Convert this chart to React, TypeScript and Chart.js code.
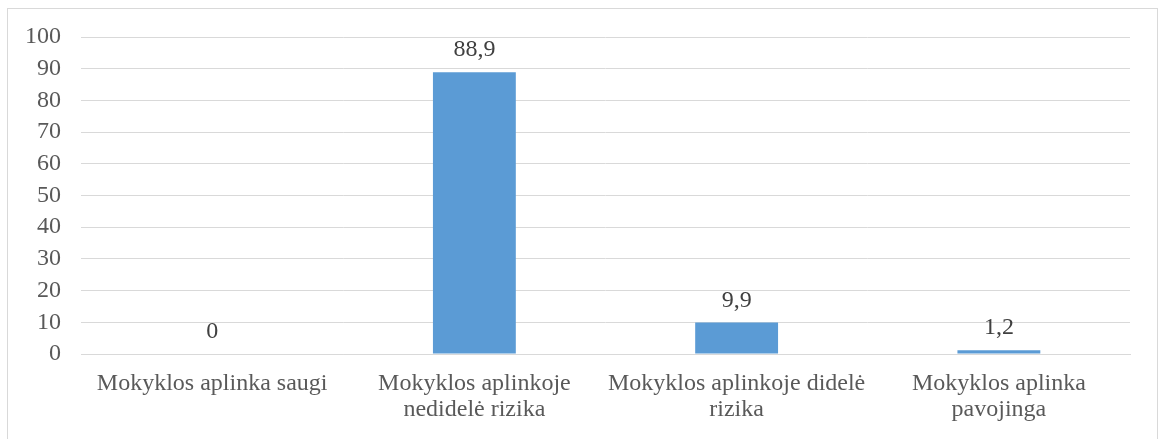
import React, { useEffect, useRef } from "react";
import { Chart, registerables } from "chart.js";

Chart.register(...registerables);

const categories: string[][] = [
  ["Mokyklos aplinka saugi"],
  ["Mokyklos aplinkoje", "nedidelė rizika"],
  ["Mokyklos aplinkoje didelė", "rizika"],
  ["Mokyklos aplinka", "pavojinga"],
];
const values: number[] = [0, 88.9, 9.9, 1.2];
const valueLabels: string[] = ["0", "88,9", "9,9", "1,2"];
const yMin = 0;
const yMax = 100;
const yStep = 10;

const FONT = "'Liberation Serif', 'Times New Roman', serif";
const FONT_SIZE = 24;

const dataLabelPlugin = {
  id: "dataLabels",
  afterDatasetsDraw(chart: any) {
    const ctx = chart.ctx;
    const meta = chart.getDatasetMeta(0);
    ctx.save();
    ctx.font = `${FONT_SIZE}px ${FONT}`;
    ctx.fillStyle = "#404040";
    ctx.textAlign = "center";
    ctx.textBaseline = "alphabetic";
    meta.data.forEach((el: any, i: number) => {
      ctx.fillText(valueLabels[i], el.x, el.y - 16);
    });
    ctx.restore();
  },
};

export default function App() {
  const ref = useRef<HTMLCanvasElement | null>(null);

  useEffect(() => {
    document.body.style.margin = "0";
    if (!ref.current) return;
    const chart = new Chart(ref.current, {
      type: "bar",
      data: {
        labels: categories,
        datasets: [
          {
            data: values,
            backgroundColor: "#5B9BD5",
            borderWidth: 0,
            categoryPercentage: 1,
            barPercentage: 0.316,
          },
        ],
      },
      options: {
        responsive: false,
        animation: false,
        layout: { padding: { top: 37, right: 30, left: 0, bottom: 0 } },
        plugins: {
          legend: { display: false },
          tooltip: { enabled: false },
        },
        scales: {
          x: {
            grid: { display: false },
            border: { display: true, color: "#d9d9d9", width: 1 },
            ticks: {
              color: "#595959",
              font: { family: FONT, size: FONT_SIZE, lineHeight: 1.08 },
              padding: 9,
              maxRotation: 0,
              autoSkip: false,
            },
            afterFit: (scale: any) => {
              scale.height = 85;
            },
          },
          y: {
            min: yMin,
            max: yMax,
            grid: { color: "#d9d9d9", drawTicks: false, lineWidth: 1 },
            border: { display: false },
            ticks: {
              stepSize: yStep,
              autoSkip: false,
              color: "#595959",
              font: { family: FONT, size: FONT_SIZE },
              padding: 20,
            },
            afterFit: (scale: any) => {
              scale.width = 81;
            },
          },
        },
      },
      plugins: [dataLabelPlugin],
    });
    return () => chart.destroy();
  }, []);

  return (
    <div
      style={{
        position: "fixed",
        left: 0,
        top: 0,
        width: 1160,
        height: 439,
        overflow: "hidden",
        background: "#ffffff",
      }}
    >
      <canvas
        ref={ref}
        width={1160}
        height={439}
        style={{ position: "absolute", left: 0, top: 0, width: 1160, height: 439 }}
      />
      <div
        style={{
          position: "absolute",
          left: 7,
          top: 8,
          width: 1149,
          height: 500,
          border: "1px solid #d9d9d9",
          pointerEvents: "none",
        }}
      />
    </div>
  );
}
